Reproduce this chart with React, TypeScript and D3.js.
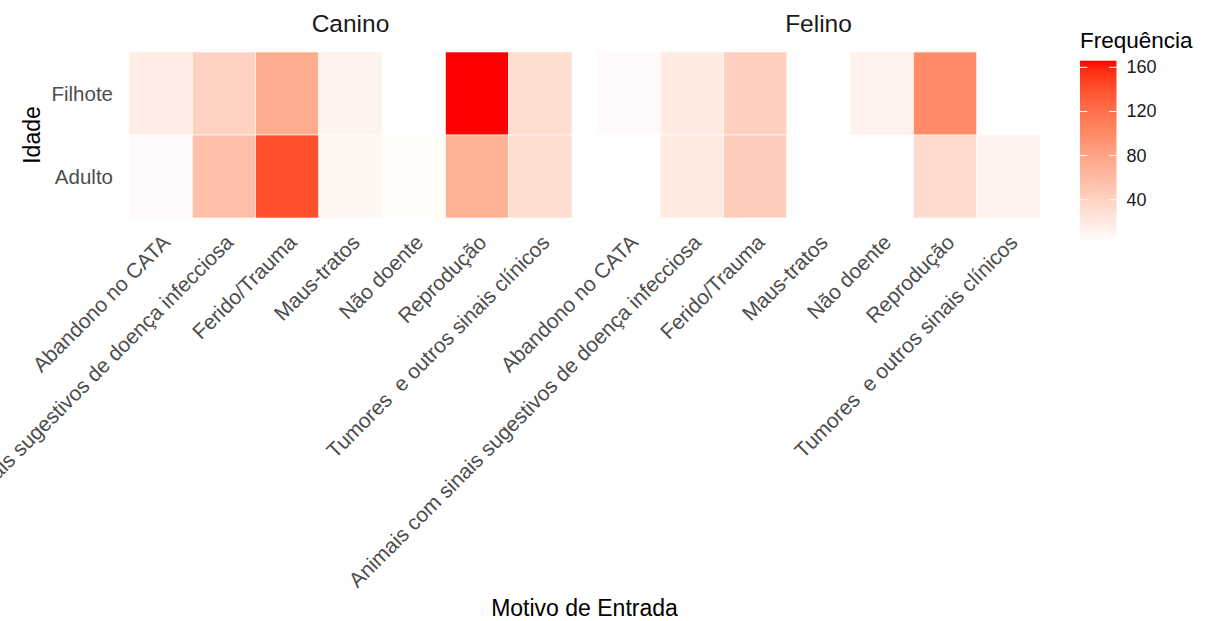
import { useMemo } from 'react';
import * as d3 from 'd3';

const W = 1212;
const H = 621;

// data (null = no tile)
const motivos = [
  'Abandono no CATA',
  'Animais com sinais sugestivos de doença infecciosa',
  'Ferido/Trauma',
  'Maus-tratos',
  'Não doente',
  'Reprodução',
  'Tumores  e outros sinais clínicos',
];
const especies = ['Canino', 'Felino'];
const idades = ['Filhote', 'Adulto'];
const caninoFilhote = [18, 40, 72, 12, null, 166, 31];
const caninoAdulto = [5, 57, 141, 9, 4, 69, 30];
const felinoFilhote = [5, 19, 42, null, 13, 100, null];
const felinoAdulto = [null, 19, 44, 1, null, 34, 12];
const legendTicks = [40, 80, 120, 160];

// panels
const PANEL_LEFT = [129, 597];
const PANEL_W = 443;
const PANEL_TOP = 52;
const PANEL_H = 166;
const FONT = 'Liberation Sans, Arial, Helvetica, sans-serif';

export default function App() {
  const rows = useMemo(() => {
    const byPanel = [
      [caninoFilhote, caninoAdulto],
      [felinoFilhote, felinoAdulto],
    ];
    const out = [];
    especies.forEach((esp, p) => {
      idades.forEach((idade, r) => {
        byPanel[p][r].forEach((v, i) => {
          if (v != null) out.push({ esp, p, idade, motivo: motivos[i], value: v });
        });
      });
    });
    return out;
  }, []);

  const [min, max] = d3.extent(rows.map(d => d.value));

  const xScale = d3.scaleBand().domain(motivos).range([0, PANEL_W]).padding(0);
  const yScale = d3
    .scaleBand()
    .domain(idades)
    .range([PANEL_TOP, PANEL_TOP + PANEL_H])
    .padding(0);

  // white -> red, Lab interpolation like scale_fill_gradient
  const colorScale = d3
    .scaleLinear<string>()
    .domain([min, max])
    .range(['#ffffff', '#ff0000'])
    .interpolate(d3.interpolateLab);

  // legend
  const LEG_X = 1080;
  const LEG_W = 36.5;
  const LEG_TOP = 60.7;
  const LEG_BOT = 242.7;
  const legScale = d3.scaleLinear().domain([min, max]).range([LEG_BOT, LEG_TOP]);
  const stops = d3.range(0, 1.0001, 0.05).map(t => ({
    offset: t,
    color: colorScale(min + (max - min) * (1 - t)),
  }));

  const tiles = rows.map((d, i) => (
    <rect
      key={i}
      x={PANEL_LEFT[d.p] + xScale(d.motivo)}
      y={yScale(d.idade)}
      width={xScale.bandwidth()}
      height={yScale.bandwidth()}
      fill={colorScale(d.value)}
      stroke="#ffffff"
      strokeWidth={0.6}
    />
  ));

  const xLabels = especies.map((esp, p) =>
    motivos.map(m => {
      const cx = PANEL_LEFT[p] + xScale(m) + xScale.bandwidth() / 2;
      return (
        <text
          key={esp + m}
          transform={`translate(${cx},${PANEL_TOP + PANEL_H + 15}) rotate(-45)`}
          textAnchor="end"
          dy="0.72em"
          fontSize={21}
          fill="#4d4d4d"
          style={{ whiteSpace: 'pre' }}
        >
          {m}
        </text>
      );
    })
  );

  const yLabels = idades.map(name => (
    <text
      key={name}
      x={113}
      y={yScale(name) + yScale.bandwidth() / 2}
      textAnchor="end"
      dominantBaseline="central"
      fontSize={20.5}
      fill="#4d4d4d"
    >
      {name}
    </text>
  ));

  return (
    <svg
      width={W}
      height={H}
      style={{ position: 'absolute', left: 0, top: 0, background: '#fff' }}
      fontFamily={FONT}
    >
      <defs>
        <linearGradient id="legGrad" x1="0" y1="0" x2="0" y2="1">
          {stops.map((s, i) => (
            <stop key={i} offset={s.offset} stopColor={s.color} />
          ))}
        </linearGradient>
      </defs>

      {/* facet strips */}
      {especies.map((esp, p) => (
        <text
          key={esp}
          x={PANEL_LEFT[p] + PANEL_W / 2}
          y={32}
          textAnchor="middle"
          fontSize={24.5}
          fill="#1a1a1a"
        >
          {esp}
        </text>
      ))}

      {tiles}
      {xLabels}
      {yLabels}

      {/* axis titles */}
      <text
        transform={`translate(${40},${PANEL_TOP + PANEL_H / 2}) rotate(-90)`}
        textAnchor="middle"
        fontSize={23}
        fill="#000"
      >
        Idade
      </text>
      <text x={584.5} y={616} textAnchor="middle" fontSize={23} fill="#000">
        Motivo de Entrada
      </text>

      {/* colour bar legend */}
      <text x={LEG_X} y={48} fontSize={22.5} fill="#000">
        Frequência
      </text>
      <rect x={LEG_X} y={LEG_TOP} width={LEG_W} height={LEG_BOT - LEG_TOP} fill="url(#legGrad)" />
      {legendTicks.map(t => (
        <g key={t}>
          <line
            x1={LEG_X}
            x2={LEG_X + LEG_W / 5}
            y1={legScale(t)}
            y2={legScale(t)}
            stroke="#fff"
            strokeWidth={1}
          />
          <line
            x1={LEG_X + LEG_W - LEG_W / 5}
            x2={LEG_X + LEG_W}
            y1={legScale(t)}
            y2={legScale(t)}
            stroke="#fff"
            strokeWidth={1}
          />
          <text
            x={LEG_X + LEG_W + 10}
            y={legScale(t)}
            dominantBaseline="central"
            fontSize={18}
            fill="#1a1a1a"
          >
            {t}
          </text>
        </g>
      ))}
    </svg>
  );
}
